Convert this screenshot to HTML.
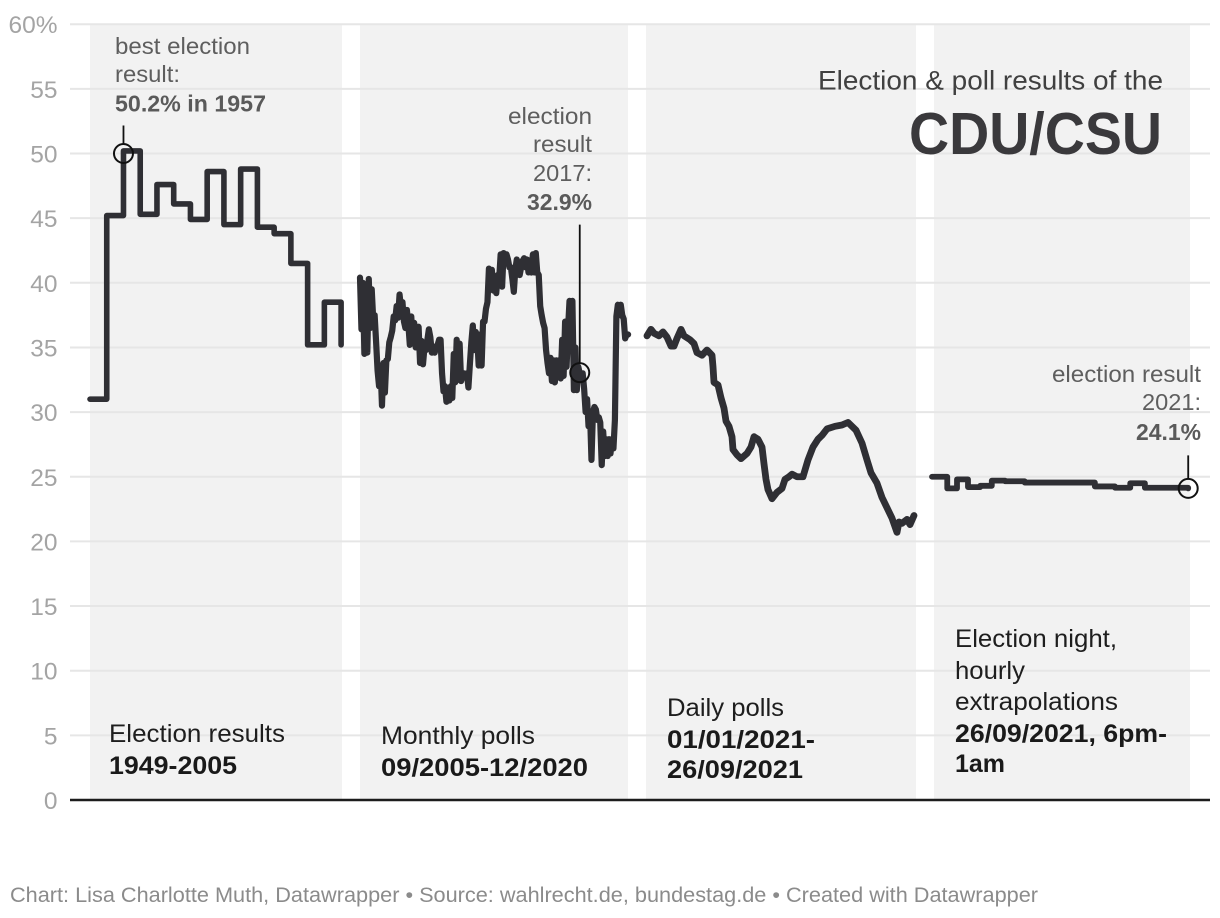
<!DOCTYPE html>
<html lang="en">
<head>
<meta charset="utf-8">
<title>Election and poll results of the CDU/CSU</title>
<style>
html,body{margin:0;padding:0;background:#fff;}
svg{display:block;font-family:"Liberation Sans",sans-serif;}
.note{font-size:23px;fill:#5e5e5e;}
.note-b{font-size:23px;fill:#5a5a5a;font-weight:bold;}
.plabel{font-size:25px;fill:#1e1e1e;}
.plabel-b{font-size:25px;fill:#1a1a1a;font-weight:bold;}
</style>
</head>
<body>
<svg id="chart" width="1220" height="918" viewBox="0 0 1220 918">
  <g id="panels">
    <rect x="90" y="24" width="252" height="776" fill="#f2f2f2"/>
    <rect x="360" y="24" width="268" height="776" fill="#f2f2f2"/>
    <rect x="646" y="24" width="270" height="776" fill="#f2f2f2"/>
    <rect x="934" y="24" width="256" height="776" fill="#f2f2f2"/>
  </g>
  <g id="grid"></g>
  <g id="ticks"></g>
  <line x1="70" x2="1210" y1="800" y2="800" stroke="#1c1c1c" stroke-width="2.4"/>

  <g>
    <text class="plabel" x="109" y="742" textLength="176" lengthAdjust="spacingAndGlyphs">Election results</text>
    <text class="plabel-b" x="109" y="774" textLength="128" lengthAdjust="spacingAndGlyphs">1949-2005</text>
    <text class="plabel" x="381" y="744" textLength="154" lengthAdjust="spacingAndGlyphs">Monthly polls</text>
    <text class="plabel-b" x="381" y="776" textLength="207" lengthAdjust="spacingAndGlyphs">09/2005-12/2020</text>
    <text class="plabel" x="667" y="716" textLength="117" lengthAdjust="spacingAndGlyphs">Daily polls</text>
    <text class="plabel-b" x="667" y="748" textLength="148" lengthAdjust="spacingAndGlyphs">01/01/2021-</text>
    <text class="plabel-b" x="667" y="778" textLength="136" lengthAdjust="spacingAndGlyphs">26/09/2021</text>
    <text class="plabel" x="955" y="647" textLength="162" lengthAdjust="spacingAndGlyphs">Election night,</text>
    <text class="plabel" x="955" y="679" textLength="70" lengthAdjust="spacingAndGlyphs">hourly</text>
    <text class="plabel" x="955" y="710" textLength="163" lengthAdjust="spacingAndGlyphs">extrapolations</text>
    <text class="plabel-b" x="955" y="742" textLength="212" lengthAdjust="spacingAndGlyphs">26/09/2021, 6pm-</text>
    <text class="plabel-b" x="955" y="772" textLength="50" lengthAdjust="spacingAndGlyphs">1am</text>
  </g>

  <g>
    <text x="818" y="89.5" font-size="26.5" fill="#404040" textLength="345" lengthAdjust="spacingAndGlyphs">Election &amp; poll results of the</text>
    <text x="909" y="154" font-size="59" font-weight="bold" fill="#3a393c" textLength="253" lengthAdjust="spacingAndGlyphs">CDU/CSU</text>
  </g>

  <g id="series"></g>
  <g id="markers"></g>

  <g>
    <text class="note" x="115" y="54" textLength="135" lengthAdjust="spacingAndGlyphs">best election</text>
    <text class="note" x="115" y="82" textLength="65" lengthAdjust="spacingAndGlyphs">result:</text>
    <text class="note-b" x="115" y="111.5" textLength="151" lengthAdjust="spacingAndGlyphs">50.2% in 1957</text>
  </g>
  <g>
    <text class="note" x="508" y="124" textLength="84" lengthAdjust="spacingAndGlyphs">election</text>
    <text class="note" x="533" y="152" textLength="59" lengthAdjust="spacingAndGlyphs">result</text>
    <text class="note" x="533" y="181" textLength="59" lengthAdjust="spacingAndGlyphs">2017:</text>
    <text class="note-b" x="527" y="210" textLength="65" lengthAdjust="spacingAndGlyphs">32.9%</text>
  </g>
  <g>
    <text class="note" x="1052" y="382" textLength="149" lengthAdjust="spacingAndGlyphs">election result</text>
    <text class="note" x="1142" y="410" textLength="59" lengthAdjust="spacingAndGlyphs">2021:</text>
    <text class="note-b" x="1136" y="440" textLength="65" lengthAdjust="spacingAndGlyphs">24.1%</text>
  </g>

  <text x="10" y="902" font-size="21" fill="#8b8b8b" textLength="1028" lengthAdjust="spacingAndGlyphs">Chart: Lisa Charlotte Muth, Datawrapper • Source: wahlrecht.de, bundestag.de • Created with Datawrapper</text>
</svg>

<script>
var tickValues = [0, 5, 10, 15, 20, 25, 30, 35, 40, 45, 50, 55, 60];
var tickLabels = ["0", "5", "10", "15", "20", "25", "30", "35", "40", "45", "50", "55", "60%"];

var electionYears = [1949, 1953, 1957, 1961, 1965, 1969, 1972, 1976, 1980, 1983, 1987, 1990, 1994, 1998, 2002, 2005];
var electionValues = [31.0, 45.2, 50.2, 45.3, 47.6, 46.1, 44.9, 48.6, 44.5, 48.8, 44.3, 43.8, 41.5, 35.2, 38.5, 35.2];

var monthlyValues = [
  40.4, 36.4, 40.0, 34.5, 37.5, 34.6, 40.3, 36.5, 39.5, 37.2,
  37.5, 35.4, 33.2, 32.0, 33.6, 30.5, 33.8, 31.5, 34.0, 34.1,
  35.4, 35.8, 36.3, 37.4, 37.1, 38.2, 37.3, 39.1, 38.0, 38.5,
  37.0, 36.5, 37.9, 36.8, 35.2, 37.4, 35.4, 36.9, 35.0, 36.4,
  36.6, 33.8, 35.5, 33.7, 35.0, 34.8, 35.6, 36.4, 35.8, 34.6,
  35.0, 34.6, 35.1, 35.2, 35.6, 35.6, 33.0, 31.6, 32.0, 30.8,
  31.2, 30.9, 32.0, 31.1, 34.5, 32.3, 35.6, 32.5, 35.3, 32.4,
  32.8, 33.0, 32.9, 33.0, 31.9, 33.7, 35.4, 36.7, 34.8, 36.2,
  35.8, 33.6, 36.0, 33.6, 37.0, 37.0, 38.0, 38.5, 41.1, 39.5,
  41.0, 39.4, 40.5, 39.2, 40.6, 40.3, 42.2, 39.7, 42.3, 41.5,
  42.2, 41.8, 41.2, 41.2, 40.3, 39.3, 41.0, 41.8, 40.8, 40.6,
  41.2, 41.7, 41.9, 41.2, 41.8, 40.8, 41.3, 40.8, 42.2, 40.8,
  42.3, 40.8, 40.6, 38.2, 37.5, 36.9, 36.5, 34.8, 33.8, 33.0,
  34.2, 32.4, 34.0, 32.3, 34.0, 32.7, 34.0, 32.6, 35.6, 32.8,
  37.0, 33.5, 36.4, 38.6, 36.5, 38.6, 31.7, 35.0, 31.7, 33.5,
  33.0, 32.7, 33.0, 31.8, 30.0, 31.0, 28.9, 30.0, 26.3, 30.0,
  30.4, 30.2, 29.4, 29.6, 29.2, 25.9, 28.5, 26.6, 27.9, 26.6,
  27.9, 26.8, 27.9, 27.2, 29.4, 37.4, 38.3, 37.5, 38.3, 37.5,
  37.2, 35.7, 36.0, 36.0
];

var dailyDayNumbers = [
  1, 5, 8, 13, 17, 21, 25, 28, 31, 35, 38, 44, 48, 51, 56, 61, 66, 67, 68, 72,
  75, 78, 80, 83, 86, 87, 91, 95, 101, 105, 108, 112, 116, 118, 120, 122, 126, 131, 136, 139,
  143, 146, 151, 157, 162, 167, 172, 176, 181, 189, 196, 202, 210, 216, 221, 225, 231, 236, 241, 246,
  251, 253, 256, 261, 264, 268
];
var dailyValues = [
  35.9, 36.4, 36.1, 35.9, 36.2, 35.8, 35.1, 35.1, 35.7, 36.4, 35.9, 35.6, 35.3, 34.6, 34.4, 34.8, 34.4, 33.5, 32.3, 32.1,
  31.1, 30.3, 29.3, 28.9, 28.1, 27.1, 26.7, 26.4, 26.8, 27.3, 28.1, 27.9, 27.3, 26.0, 24.8, 24.0, 23.3, 23.8, 24.1, 24.8,
  25.0, 25.2, 25.0, 25.0, 26.3, 27.3, 27.9, 28.2, 28.7, 28.9, 29.0, 29.2, 28.6, 27.6, 26.3, 25.3, 24.5, 23.4, 22.6, 21.8,
  20.7, 21.5, 21.4, 21.7, 21.3, 22.0
];

var nightMinutes = [0, 25, 41, 59, 79, 98, 120, 152, 267, 300, 325, 349, 420];
var nightValues = [25.0, 24.1, 24.8, 24.2, 24.3, 24.7, 24.65, 24.55, 24.25, 24.15, 24.5, 24.15, 24.1];

var markerLabels = ["best-1957", "result-2017", "result-2021"];
var markerValues = [50.0, 33.05, 24.1];

var SVG_NS = "http://www.w3.org/2000/svg";
function yScale(v) { return 800 - 12.93 * v; }
function xElection(i) { return 90 + 16.74 * i; }
function xMonthly(i) { return 360 + 1.465 * i; }
function xDaily(d) { return 646 + d; }
function xNight(m) { return 932 + 0.61 * m; }

var gridGroup = document.getElementById("grid");
var tickGroup = document.getElementById("ticks");
var seriesGroup = document.getElementById("series");
var markerGroup = document.getElementById("markers");

tickValues.forEach(function (v, i) {
  if (v !== 0) {
    var g = document.createElementNS(SVG_NS, "line");
    g.setAttribute("x1", 70);
    g.setAttribute("x2", 1210);
    g.setAttribute("y1", yScale(v));
    g.setAttribute("y2", yScale(v));
    g.setAttribute("stroke", "#e6e6e6");
    g.setAttribute("stroke-width", 2);
    
    
    gridGroup.appendChild(g);
  }
  var t = document.createElementNS(SVG_NS, "text");
  t.setAttribute("x", 57.5);
  t.setAttribute("y", yScale(v) + 9);
  t.setAttribute("text-anchor", "end");
  t.setAttribute("font-size", 24.5);
  t.setAttribute("fill", "#a4a4a4");
  t.textContent = tickLabels[i];
  
  
  tickGroup.appendChild(t);
});

function linePath(xs, ys) {
  return xs.map(function (x, i) { return (i ? "L" : "M") + x.toFixed(2) + " " + ys[i].toFixed(2); }).join("");
}
function stepPath(xs, ys) {
  var d = "M" + xs[0].toFixed(2) + " " + ys[0].toFixed(2);
  for (var i = 1; i < xs.length; i++) {
    d += "H" + xs[i].toFixed(2) + "V" + ys[i].toFixed(2);
  }
  return d;
}
function addSeries(d, width, name) {
  var p = document.createElementNS(SVG_NS, "path");
  p.setAttribute("d", d);
  p.setAttribute("fill", "none");
  p.setAttribute("stroke", "#2f2f34");
  p.setAttribute("stroke-width", width);
  p.setAttribute("stroke-linejoin", "round");
  p.setAttribute("stroke-linecap", "round");
  
  
  seriesGroup.appendChild(p);
}

addSeries(stepPath(electionYears.map(function (y, i) { return xElection(i); }), electionValues.map(yScale)), 5.6, "line-election-results");
addSeries(linePath(monthlyValues.map(function (v, i) { return xMonthly(i); }), monthlyValues.map(yScale)), 6.2, "line-monthly-polls");
addSeries(linePath(dailyDayNumbers.map(xDaily), dailyValues.map(yScale)), 6.8, "line-daily-polls");
addSeries(stepPath(nightMinutes.map(xNight), nightValues.map(yScale)), 5.8, "line-election-night");

var markerX = [xElection(2), xMonthly(150), xNight(420)];
var leaderLength = [28, 148, 33];
markerValues.forEach(function (v, i) {
  var cy = yScale(v);
  var l = document.createElementNS(SVG_NS, "line");
  l.setAttribute("x1", markerX[i]);
  l.setAttribute("x2", markerX[i]);
  l.setAttribute("y1", cy - leaderLength[i]);
  l.setAttribute("y2", cy - 9);
  l.setAttribute("stroke", "#111");
  l.setAttribute("stroke-width", 1.8);
  
  
  markerGroup.appendChild(l);
  var c = document.createElementNS(SVG_NS, "circle");
  c.setAttribute("cx", markerX[i]);
  c.setAttribute("cy", cy);
  c.setAttribute("r", 9.5);
  c.setAttribute("fill", "none");
  c.setAttribute("stroke", "#111");
  c.setAttribute("stroke-width", 2);
  
  
  markerGroup.appendChild(c);
});
</script>
</body>
</html>
